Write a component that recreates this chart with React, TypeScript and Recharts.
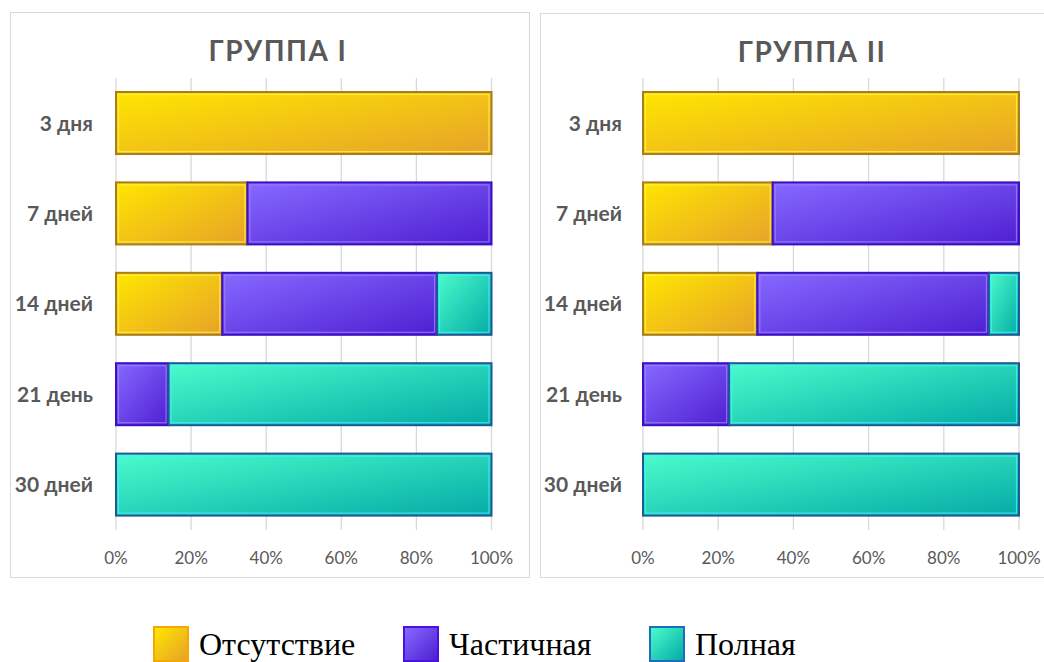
import React from "react";
import {
  BarChart,
  Bar,
  XAxis,
  YAxis,
  CartesianGrid,
} from "recharts";

// Healing stages by day, shares in percent
const categories = ["3 дня", "7 дней", "14 дней", "21 день", "30 дней"];
const seriesNames = ["Отсутствие", "Частичная", "Полная"];

const groupOneAbsent = [100, 35, 28.3, 0, 0];
const groupOnePartial = [0, 65, 57.2, 14, 0];
const groupOneFull = [0, 0, 14.5, 86, 100];

const groupTwoAbsent = [100, 34.5, 30.4, 0, 0];
const groupTwoPartial = [0, 65.5, 61.6, 22.9, 0];
const groupTwoFull = [0, 0, 8, 77.1, 100];

const percentTicks = [0, 20, 40, 60, 80, 100];

const LABEL_FONT = "Lato, 'Open Sans', 'DejaVu Sans', sans-serif";
const TEXT_GRAY = "#595959";

type Palette = { from: string; to: string; stroke: string; inner: string; legendBorder: string };

const palettes: Palette[] = [
  { from: "#FFE600", to: "#E6A22A", stroke: "#A97C1E", inner: "#FFF54A", legendBorder: "#F7A800" },
  { from: "#8669FF", to: "#4F1FD2", stroke: "#3D0FC4", inner: "#9C84FF", legendBorder: "#4A12E0" },
  { from: "#4BFCCB", to: "#04ABA6", stroke: "#1E5896", inner: "#44F2FF", legendBorder: "#1F6CBF" },
];

const buildRows = (absent: number[], partial: number[], full: number[]) =>
  categories.map((name, i) => ({
    name,
    absent: absent[i],
    partial: partial[i],
    full: full[i],
  }));

const groupOneRows = buildRows(groupOneAbsent, groupOnePartial, groupOneFull);
const groupTwoRows = buildRows(groupTwoAbsent, groupTwoPartial, groupTwoFull);

// stacked segment with a dark outline and a thin light bevel inside
const segmentShape = (pal: Palette) => (props: any) => {
  const { x, y, width, height, fill } = props;
  if (!width || width <= 0.5) return <g />;
  return (
    <g>
      <rect x={x} y={y} width={width} height={height} fill={fill} stroke={pal.stroke} strokeWidth={2} />
      <rect
        x={x + 2.5}
        y={y + 2.5}
        width={Math.max(width - 5, 0)}
        height={Math.max(height - 5, 0)}
        fill="none"
        stroke={pal.inner}
        strokeWidth={1.2}
        strokeOpacity={0.75}
      />
    </g>
  );
};

type PanelProps = {
  id: string;
  title: string;
  rows: any[];
  left: number;
  top: number;
  height: number;
  yAxisWidth: number;
  marginRight: number;
  marginTop: number;
  labelGap: number;
  titleCenter: number;
};

function Panel(p: PanelProps) {
  const chartW = 518;
  const chartH = p.height - 2;
  const keys = ["absent", "partial", "full"];
  return (
    <div
      style={{
        position: "absolute",
        left: p.left,
        top: p.top,
        width: 520,
        height: p.height,
        boxSizing: "border-box",
        border: "1px solid #d9d9d9",
        background: "#fff",
      }}
    >
      <div
        style={{
          position: "absolute",
          left: p.titleCenter - 150,
          top: 20.5,
          width: 300,
          textAlign: "center",
          fontFamily: LABEL_FONT,
          fontWeight: 700,
          fontSize: 28,
          lineHeight: "33.6px",
          letterSpacing: 1.5,
          color: TEXT_GRAY,
          whiteSpace: "nowrap",
        }}
      >
        {p.title}
      </div>
      <div style={{ position: "absolute", left: 0, top: 0 }}>
        <BarChart
          width={chartW}
          height={chartH}
          data={p.rows}
          layout="vertical"
          barCategoryGap="15.5%"
          margin={{ top: p.marginTop, right: p.marginRight, bottom: 17, left: 0 }}
        >
          <defs>
            {palettes.map((pal, i) => (
              <linearGradient key={i} id={`${p.id}-grad-${i}`} x1="0" y1="0" x2="1" y2="1">
                <stop offset="0%" stopColor={pal.from} />
                <stop offset="100%" stopColor={pal.to} />
              </linearGradient>
            ))}
          </defs>
          <CartesianGrid horizontal={false} stroke="#d9d9d9" strokeWidth={1.3} />
          <XAxis
            type="number"
            domain={[0, 100]}
            ticks={percentTicks}
            tickFormatter={(v: number) => `${v}%`}
            axisLine={false}
            tickLine={false}
            tickSize={0}
            tickMargin={22}
            height={30}
            interval={0}
            tick={{ fill: TEXT_GRAY, fontSize: 17, fontFamily: LABEL_FONT }}
          />
          <YAxis
            type="category"
            dataKey="name"
            width={p.yAxisWidth}
            axisLine={false}
            tickLine={false}
            tickSize={0}
            tickMargin={p.labelGap}
            tick={{ fill: TEXT_GRAY, fontSize: 21, fontWeight: 700, fontFamily: LABEL_FONT }}
          />
          {keys.map((k, i) => (
            <Bar
              key={k}
              dataKey={k}
              name={seriesNames[i]}
              stackId="stage"
              fill={`url(#${p.id}-grad-${i})`}
              shape={segmentShape(palettes[i])}
              isAnimationActive={false}
            />
          ))}
        </BarChart>
      </div>
    </div>
  );
}

const legendSpots = [153, 403, 649];

export default function App() {
  return (
    <div
      style={{
        position: "absolute",
        left: 0,
        top: 0,
        width: 1044,
        height: 662,
        overflow: "hidden",
        background: "#fff",
      }}
    >
      <Panel
        id="g1"
        title="ГРУППА I"
        rows={groupOneRows}
        left={10}
        top={12}
        height={566}
        yAxisWidth={105}
        marginRight={37.5}
        marginTop={65}
        labelGap={23}
        titleCenter={267}
      />
      <Panel
        id="g2"
        title="ГРУППА II"
        rows={groupTwoRows}
        left={540}
        top={13}
        height={565}
        yAxisWidth={102}
        marginRight={40}
        marginTop={64}
        labelGap={21}
        titleCenter={271}
      />
      {seriesNames.map((name, i) => (
        <div
          key={name}
          style={{ position: "absolute", left: legendSpots[i], top: 626, display: "flex", alignItems: "flex-start" }}
        >
          <div
            style={{
              width: 36,
              height: 36,
              boxSizing: "border-box",
              border: `2.5px solid ${palettes[i].legendBorder}`,
              background: `linear-gradient(135deg, ${palettes[i].from}, ${palettes[i].to})`,
            }}
          />
          <span
            style={{
              marginLeft: 10,
              fontFamily: "'Liberation Serif', 'Times New Roman', serif",
              fontSize: 32,
              lineHeight: "36px",
              color: "#000",
              whiteSpace: "nowrap",
            }}
          >
            {name}
          </span>
        </div>
      ))}
    </div>
  );
}
